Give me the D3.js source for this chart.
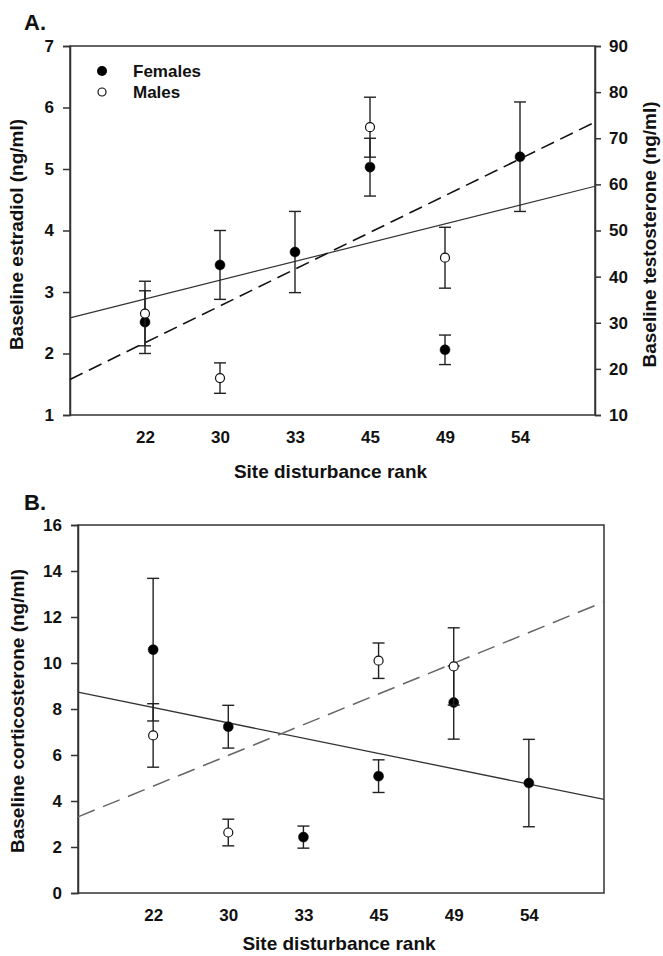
<!DOCTYPE html>
<html>
<head>
<meta charset="utf-8">
<script src="https://cdn.jsdelivr.net/npm/d3@7"></script>
<style>
  body { margin: 0; background: #fff; }
  svg { display: block; }
  text { fill: #111; }
</style>
</head>
<body>
<div id="chart"></div>
<script>
// site disturbance ranks (categorical x positions 1..6)
const ranks = [22, 30, 33, 45, 49, 54];

// panel A: estradiol (females, left axis) and testosterone (males, right axis)
const estradiolF = [2.51, 3.44, 3.65, 5.03, 2.06, 5.20];
const estradiolFErr = [0.51, 0.56, 0.66, 0.47, 0.24, 0.89];
const testoRanks = [22, 30, 45, 49];
const testoM = [32.0, 18.0, 72.4, 44.1];
const testoMErr = [7.0, 3.3, 6.5, 6.6];
const lineA_F = [2.58, 4.72];   // solid fit, estradiol at left/right edge
const lineA_M = [17.7, 73.5];   // dashed fit, testosterone at left/right edge

// panel B: corticosterone
const corticoF = [10.58, 7.23, 2.43, 5.08, 8.28, 4.78];
const corticoFErr = [3.1, 0.93, 0.48, 0.71, 1.59, 1.9];
const corticoMRanks = [22, 30, 45, 49];
const corticoM = [6.85, 2.63, 10.1, 9.85];
const corticoMErr = [1.38, 0.58, 0.77, 1.68];
const lineB_F = [8.73, 4.07];
const lineB_M = [3.31, 12.66];

const estTicks = [1, 2, 3, 4, 5, 6, 7];
const testoTicks = [10, 20, 30, 40, 50, 60, 70, 80, 90];
const cortTicks = [0, 2, 4, 6, 8, 10, 12, 14, 16];

const width = 663, height = 956;
const narrow = "'Liberation Sans Narrow', 'Arial Narrow', 'Liberation Sans', Arial, sans-serif";
const wide = "'Liberation Sans', Arial, sans-serif";

const svg = d3.select("#chart").append("svg")
  .attr("width", width)
  .attr("height", height);

const pos = r => ranks.indexOf(r) + 1;

function panel(box) {
  const g = svg.append("g");
  const x = d3.scaleLinear().domain([0, 7]).range([box.left, box.right]);
  return { g, x };
}

function drawErr(g, x, y, xs, vals, errs, filled, r) {
  const cap = 6;
  xs.forEach((rk, i) => {
    const cx = x(pos(rk));
    const hi = y(vals[i] + errs[i]), lo = y(vals[i] - errs[i]);
    g.append("line").attr("x1", cx).attr("x2", cx).attr("y1", hi).attr("y2", lo)
      .attr("stroke", "#222").attr("stroke-width", 1.4);
    [hi, lo].forEach(yy => g.append("line")
      .attr("x1", cx - cap).attr("x2", cx + cap).attr("y1", yy).attr("y2", yy)
      .attr("stroke", "#222").attr("stroke-width", 1.4));
  });
  g.selectAll(null).data(xs).enter().append("circle")
    .attr("cx", d => x(pos(d)))
    .attr("cy", (d, i) => y(vals[i]))
    .attr("r", r)
    .attr("fill", filled ? "#000" : "#fff")
    .attr("stroke", "#111")
    .attr("stroke-width", filled ? 0.5 : 1.2);
}

function xAxis(g, x, y0, titleY) {
  const ax = d3.axisBottom(x).tickValues(ranks.map(pos))
    .tickFormat((d, i) => ranks[i]).tickSize(0).tickPadding(16);
  const a = g.append("g").attr("transform", `translate(0,${y0})`).call(ax);
  a.select(".domain").remove();
  a.selectAll("text").attr("font-family", narrow).attr("font-weight", "bold")
    .attr("font-size", 17).attr("fill", "#111");
  g.append("text").attr("x", (x.range()[0] + x.range()[1]) / 2 - 2).attr("y", titleY)
    .attr("text-anchor", "middle").attr("font-family", narrow).attr("font-weight", "bold")
    .attr("font-size", 19).text("Site disturbance rank");
}

function styleAxis(a) {
  a.selectAll(".domain").attr("stroke", "#333").attr("stroke-width", 1.5);
  a.selectAll(".tick line").attr("stroke", "#333").attr("stroke-width", 1.5);
  a.selectAll("text").attr("font-family", narrow).attr("font-weight", "bold")
    .attr("font-size", 17).attr("fill", "#111");
}

// ---------- Panel A ----------
const boxA = { left: 70, right: 595, top: 46, bottom: 415 };
const A = panel(boxA);
const yE = d3.scaleLinear().domain([1, 7]).range([boxA.bottom, boxA.top]);
const yT = d3.scaleLinear().domain([10, 90]).range([boxA.bottom, boxA.top]);

A.g.append("rect").attr("x", boxA.left).attr("y", boxA.top)
  .attr("width", boxA.right - boxA.left).attr("height", boxA.bottom - boxA.top)
  .attr("fill", "none").attr("stroke", "#333").attr("stroke-width", 1.5);

styleAxis(A.g.append("g").attr("transform", `translate(${boxA.left},0)`)
  .call(d3.axisLeft(yE).tickValues(estTicks).tickSize(7).tickPadding(9).tickFormat(d3.format("d"))));
styleAxis(A.g.append("g").attr("transform", `translate(${boxA.right},0)`)
  .call(d3.axisRight(yT).tickValues(testoTicks).tickSize(6).tickPadding(8).tickFormat(d3.format("d"))));

// fit lines
A.g.append("line").attr("x1", A.x(0)).attr("x2", A.x(7))
  .attr("y1", yE(lineA_F[0])).attr("y2", yE(lineA_F[1]))
  .attr("stroke", "#333").attr("stroke-width", 1.2);
A.g.append("line").attr("x1", A.x(0)).attr("x2", A.x(7))
  .attr("y1", yT(lineA_M[0])).attr("y2", yT(lineA_M[1]))
  .attr("stroke", "#111").attr("stroke-width", 1.6).attr("stroke-dasharray", "14,7");

drawErr(A.g, A.x, yE, ranks, estradiolF, estradiolFErr, true, 5);
drawErr(A.g, A.x, yT, testoRanks, testoM, testoMErr, false, 4.5);

// legend
A.g.append("circle").attr("cx", 102).attr("cy", 71).attr("r", 5).attr("fill", "#000");
A.g.append("circle").attr("cx", 102).attr("cy", 92).attr("r", 4).attr("fill", "#fff")
  .attr("stroke", "#111").attr("stroke-width", 1.2);
A.g.append("text").attr("x", 133).attr("y", 77).attr("font-family", narrow)
  .attr("font-weight", "bold").attr("font-size", 17).text("Females");
A.g.append("text").attr("x", 133).attr("y", 98).attr("font-family", narrow)
  .attr("font-weight", "bold").attr("font-size", 17).text("Males");

xAxis(A.g, A.x, boxA.bottom, 478);

A.g.append("text").attr("transform", `translate(23,${(boxA.top + boxA.bottom) / 2 + 4}) rotate(-90)`)
  .attr("text-anchor", "middle").attr("font-family", wide).attr("font-weight", "bold")
  .attr("font-size", 19).text("Baseline estradiol (ng/ml)");
A.g.append("text").attr("transform", `translate(656,${(boxA.top + boxA.bottom) / 2 + 4}) rotate(-90)`)
  .attr("text-anchor", "middle").attr("font-family", wide).attr("font-weight", "bold")
  .attr("font-size", 19).text("Baseline testosterone (ng/ml)");
A.g.append("text").attr("x", 24).attr("y", 30).attr("font-family", narrow)
  .attr("font-weight", "bold").attr("font-size", 22).text("A.");

// ---------- Panel B ----------
const boxB = { left: 78, right: 604, top: 525, bottom: 893 };
const B = panel(boxB);
const yC = d3.scaleLinear().domain([0, 16]).range([boxB.bottom, boxB.top]);

B.g.append("rect").attr("x", boxB.left).attr("y", boxB.top)
  .attr("width", boxB.right - boxB.left).attr("height", boxB.bottom - boxB.top)
  .attr("fill", "none").attr("stroke", "#333").attr("stroke-width", 1.5);

styleAxis(B.g.append("g").attr("transform", `translate(${boxB.left},0)`)
  .call(d3.axisLeft(yC).tickValues(cortTicks).tickSize(7).tickPadding(9).tickFormat(d3.format("d"))));

B.g.append("line").attr("x1", B.x(0)).attr("x2", B.x(7))
  .attr("y1", yC(lineB_F[0])).attr("y2", yC(lineB_F[1]))
  .attr("stroke", "#333").attr("stroke-width", 1.3);
B.g.append("line").attr("x1", B.x(0)).attr("x2", B.x(7))
  .attr("y1", yC(lineB_M[0])).attr("y2", yC(lineB_M[1]))
  .attr("stroke", "#666").attr("stroke-width", 1.5).attr("stroke-dasharray", "18,9");

drawErr(B.g, B.x, yC, ranks, corticoF, corticoFErr, true, 5);
drawErr(B.g, B.x, yC, corticoMRanks, corticoM, corticoMErr, false, 4.5);

xAxis(B.g, B.x, boxB.bottom, 950);

B.g.append("text").attr("transform", `translate(24,${(boxB.top + boxB.bottom) / 2 + 2}) rotate(-90)`)
  .attr("text-anchor", "middle").attr("font-family", wide).attr("font-weight", "bold")
  .attr("font-size", 19).text("Baseline corticosterone (ng/ml)");
B.g.append("text").attr("x", 24).attr("y", 510).attr("font-family", narrow)
  .attr("font-weight", "bold").attr("font-size", 22).text("B.");
</script>
</body>
</html>
